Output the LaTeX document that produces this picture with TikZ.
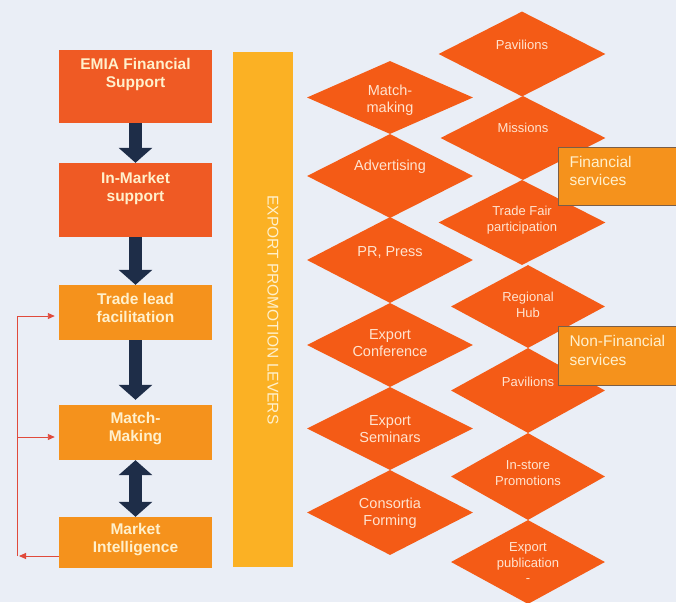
\documentclass[tikz,border=0pt]{standalone}
\usepackage{fontspec}
\setmainfont{Liberation Sans}
\usetikzlibrary{shapes.geometric,arrows.meta}
\definecolor{bgc}{HTML}{EAEEF6}
\definecolor{redbox}{HTML}{EF5A24}
\definecolor{orbox}{HTML}{F5921C}
\definecolor{barc}{HTML}{FBB124}
\definecolor{diac}{HTML}{F45B16}
\definecolor{navy}{HTML}{1E2D48}
\definecolor{fbred}{HTML}{E04A3C}
\definecolor{paletxt}{HTML}{FFF0CC}
\definecolor{diatxt}{HTML}{FFE4D0}
\definecolor{calloutb}{HTML}{7A5E48}
\tikzset{
  box/.style={rectangle, inner sep=0pt, minimum width=153pt},
  boxtxt/.style={align=center, text=paletxt, font=\bfseries\fontsize{15.5}{18}\selectfont},
  blockarr/.style={draw=navy, line width=13pt, -{Triangle[width=33pt,length=15pt]}},
  dblarr/.style={draw=navy, line width=13pt, {Triangle[width=33pt,length=15pt]}-{Triangle[width=33pt,length=15pt]}},
  fbline/.style={draw=fbred, line width=0.9pt},
  fbarr/.style={fbline, -{Triangle[length=7pt,width=6pt]}},
  dia/.style={diamond, fill=diac, inner sep=0pt},
  ltxt/.style={align=center, text=diatxt, font=\fontsize{14.5}{17}\selectfont},
  rtxt/.style={align=center, text=diatxt, font=\fontsize{13}{15.5}\selectfont},
  callout/.style={rectangle, fill=orbox, draw=calloutb, line width=0.8pt, inner sep=0pt, anchor=north west},
  ctxt/.style={align=left, anchor=west, text=paletxt, font=\fontsize{15.5}{18.5}\selectfont}
}
\begin{document}
\begin{tikzpicture}[x=1pt,y=-1pt]
\fill[bgc] (0,0) rectangle (676,602);
\useasboundingbox (0,0) rectangle (676,602);

% left column boxes
\node[box, fill=redbox, minimum height=73pt] (emia) at (135.5,86.5) {};
\node[boxtxt] (emiat) at (135.5,74.5) {EMIA Financial\\Support};
\node[box, fill=redbox, minimum height=74pt] (inm) at (135.5,200) {};
\node[boxtxt] (inmt) at (135.5,188) {In-Market\\support};
\node[box, fill=orbox, minimum height=55pt] (tl) at (135.5,312.5) {};
\node[boxtxt] (tlt) at (135.5,308) {Trade lead\\facilitation};
\node[box, fill=orbox, minimum height=55pt] (mm) at (135.5,432.5) {};
\node[boxtxt] (mmt) at (135.5,428.5) {Match-\\Making};
\node[box, fill=orbox, minimum height=51pt] (mi) at (135.5,542.5) {};
\node[boxtxt] (mit) at (135.5,540) {Market\\Intelligence};

% block arrows
\draw[blockarr] (emia.south) -- (inm.north);
\draw[blockarr] (inm.south) -- (tl.north);
\draw[blockarr] (tl.south) -- ([yshift=5pt]mm.north);
\draw[dblarr] (mm.south) -- (mi.north);

% feedback lines
\coordinate (fbBot) at (17,556);
\coordinate (fbTop) at (17,316);
\coordinate (fbMid) at (17,437);
\draw[fbarr, shorten >=2pt] (mi.west |- fbBot) -- (fbBot);
\draw[fbline] (fbBot) -- (fbTop);
\draw[fbarr, shorten >=4pt] (fbTop) -- (tl.west |- fbTop);
\draw[fbarr, shorten >=4pt] (fbMid) -- (mm.west |- fbMid);

% vertical bar
\node[rectangle, fill=barc, inner sep=0pt, minimum width=60pt, minimum height=515pt] (bar) at (263,309.5) {};
\node[rotate=-90, text=paletxt, font=\fontsize{15.5}{18}\selectfont] (bart) at (273,310) {EXPORT PROMOTION LEVERS};

% left diamonds
\node[dia, minimum width=166pt, minimum height=73pt] (l1) at (390,97.5) {};
\node[ltxt] at (390,100) {Match-\\making};
\node[dia, minimum width=166pt, minimum height=84pt] (l2) at (390,176) {};
\node[ltxt] at (390,167) {Advertising};
\node[dia, minimum width=166pt, minimum height=86pt] (l3) at (390,260) {};
\node[ltxt] at (390,252) {PR, Press};
\node[dia, minimum width=166pt, minimum height=84pt] (l4) at (390,345) {};
\node[ltxt] at (390,343) {Export\\Conference};
\node[dia, minimum width=166pt, minimum height=83pt] (l5) at (390,428.5) {};
\node[ltxt] at (390,429) {Export\\Seminars};
\node[dia, minimum width=166pt, minimum height=85pt] (l6) at (390,512.5) {};
\node[ltxt] at (390,513) {Consortia\\Forming};

% right diamonds
\node[dia, minimum width=167pt, minimum height=85pt] (r1) at (522,54) {};
\node[rtxt] at (522,45) {Pavilions};
\node[dia, minimum width=165pt, minimum height=84pt] (r2) at (523,138) {};
\node[rtxt] at (523,128) {Missions};
\node[dia, minimum width=167pt, minimum height=85pt] (r3) at (522,222.5) {};
\node[rtxt] at (522,220) {Trade Fair\\participation};
\node[dia, minimum width=154pt, minimum height=83pt] (r4) at (528,306.5) {};
\node[rtxt] at (528,305) {Regional\\Hub};
\node[dia, minimum width=154pt, minimum height=85pt] (r5) at (528,390.5) {};
\node[rtxt] at (528,382) {Pavilions};
\node[dia, minimum width=154pt, minimum height=87pt] (r6) at (528,476.5) {};
\node[rtxt] at (528,473) {In-store\\Promotions};
\node[dia, minimum width=154pt, minimum height=84pt] (r7) at (528,562) {};
\node[rtxt, font=\fontsize{13}{15.5}\selectfont] at (528,563) {Export\\publication\\-};

% callouts
\node[callout, minimum width=119pt, minimum height=58pt] (fin) at (558,147) {};
\node[ctxt] (fint) at (566,171) {Financial\\services};
\node[callout, minimum width=119pt, minimum height=59pt] (nfin) at (558,326) {};
\node[ctxt] (nfint) at (566,350.5) {Non-Financial\\services};
\end{tikzpicture}
\end{document}
